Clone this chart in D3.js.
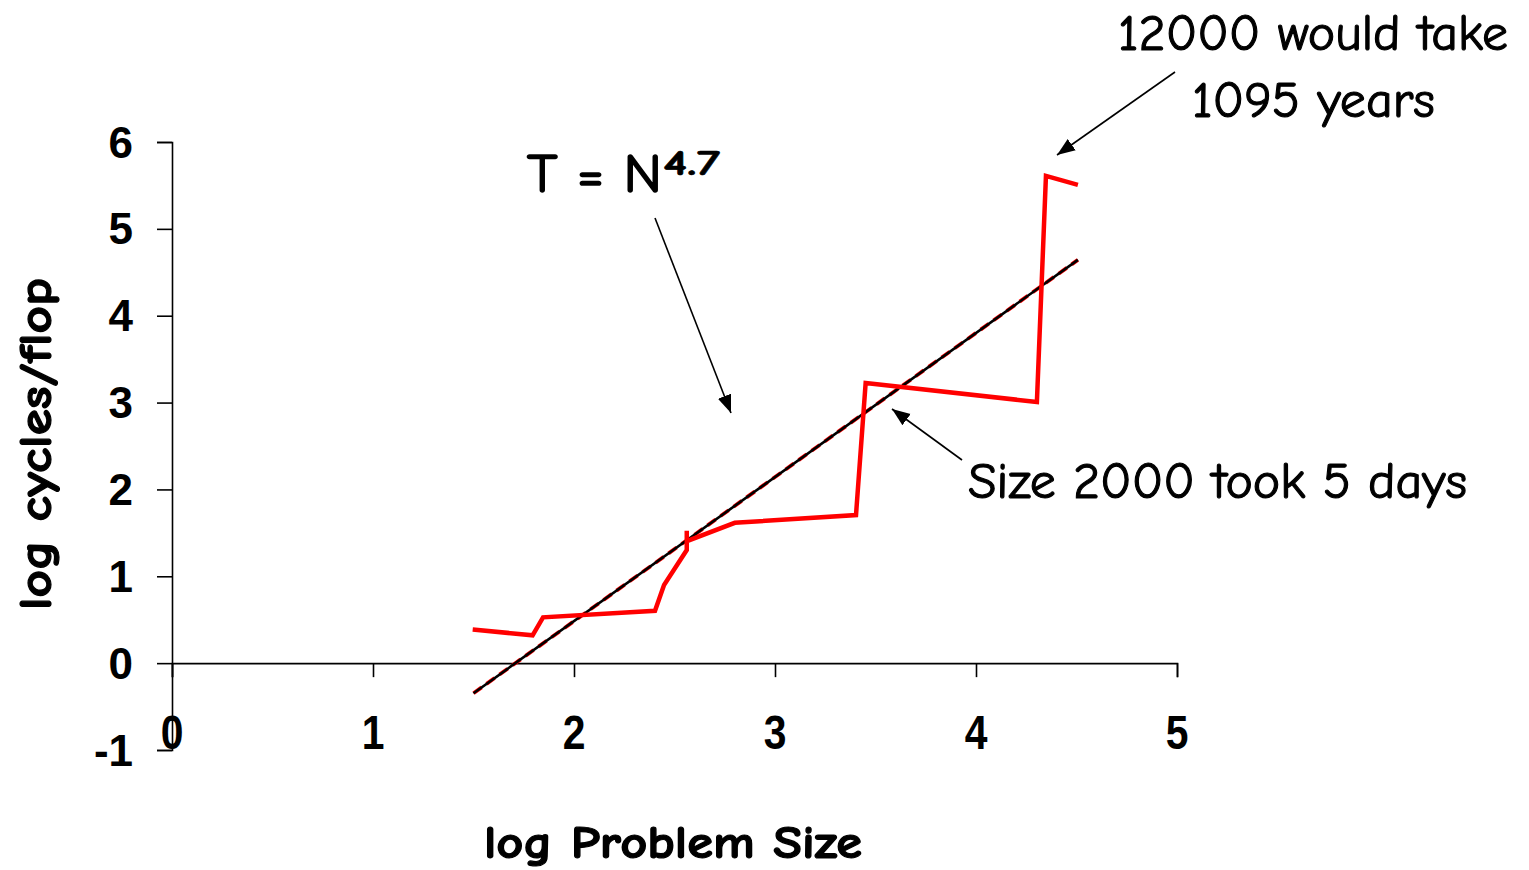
<!DOCTYPE html>
<html>
<head>
<meta charset="utf-8">
<script src="https://cdn.jsdelivr.net/npm/d3@7/dist/d3.min.js"></script>
<style>
  html, body { margin: 0; padding: 0; background: #fff; }
  svg { display: block; }
</style>
</head>
<body>
<svg id="chart" width="1529" height="870"></svg>
<script>
// ---- data ----
const logSize   = [1.496, 1.794, 1.846, 2.403, 2.448, 2.561, 2.561, 2.561, 2.80, 3.403, 3.451, 4.303, 4.348, 4.507];
const logCycles = [0.388, 0.32, 0.527, 0.603, 0.899, 1.302, 1.524, 1.405, 1.616, 1.705, 3.226, 3.007, 5.61, 5.507];
const fitX = [1.5, 4.507];
const fitY = [-0.346, 4.643];
const xTicks = [0, 1, 2, 3, 4, 5];
const yTicks = [-1, 0, 1, 2, 3, 4, 5, 6];
const xTitle = "log Problem Size";
const yTitle = "log cycles/flop";

const svg = d3.select("#chart");
const x = d3.scaleLinear().domain([0, 5]).range([172, 1177]);
const y = d3.scaleLinear().domain([-1, 6]).range([750, 142]);

const comic = "'Comic Sans MS','Comic Neue','Lato','Open Sans',sans-serif";
const arial = "'Liberation Sans',Arial,sans-serif";

// y axis
const yAxis = svg.append("g")
  .attr("transform", `translate(${x(0)},0)`)
  .call(d3.axisLeft(y).tickValues(yTicks).tickSize(15).tickFormat(""));
yAxis.select(".domain").attr("stroke", "#000").attr("stroke-width", 1.6);
yAxis.selectAll(".tick line").attr("stroke", "#000").attr("stroke-width", 1.6);

svg.append("g").selectAll("text").data(yTicks).join("text")
  .attr("x", 133).attr("y", d => y(d) + 15.5)
  .attr("text-anchor", "end")
  .attr("font-family", arial).attr("font-weight", "bold").attr("font-size", 44)
  .text(d => d);

// x axis at y=0
const xAxis = svg.append("g")
  .attr("transform", `translate(0,${y(0)})`)
  .call(d3.axisBottom(x).tickValues(xTicks).tickSize(14).tickFormat(""));
xAxis.select(".domain").attr("stroke", "#000").attr("stroke-width", 1.6);
xAxis.selectAll(".tick line").attr("stroke", "#000").attr("stroke-width", 1.6);

svg.append("g").selectAll("text").data(xTicks).join("text")
  .attr("transform", d => `translate(${x(d)},749) scale(0.95,1.12)`)
  .attr("text-anchor", "middle")
  .attr("font-family", arial).attr("font-weight", "bold").attr("font-size", 43)
  .text(d => d);

// trend line: red dashed under black
const line = d3.line().x(d => x(d[0])).y(d => y(d[1]));
const fit = d3.zip(fitX, fitY);
svg.append("path").attr("d", line(fit)).attr("fill", "none")
  .attr("stroke", "#ff0000").attr("stroke-width", 3.8).attr("stroke-dasharray", "10,6");
svg.append("path").attr("d", line(fit)).attr("fill", "none")
  .attr("stroke", "#000").attr("stroke-width", 2.6);

// data line
svg.append("path").attr("d", line(d3.zip(logSize, logCycles))).attr("fill", "none")
  .attr("stroke", "#ff0000").attr("stroke-width", 4.5).attr("stroke-linejoin", "miter");

// arrow marker
svg.append("defs").append("marker")
  .attr("id", "arr").attr("markerUnits", "userSpaceOnUse")
  .attr("markerWidth", 20).attr("markerHeight", 16)
  .attr("refX", 18).attr("refY", 7).attr("orient", "auto")
  .append("path").attr("d", "M0,0 L18,7 L0,14 Z").attr("fill", "#000");

const arrows = [
  [655, 218, 731, 413],
  [962, 460, 892, 409],
  [1175, 72, 1057, 155]
];
svg.append("g").selectAll("line").data(arrows).join("line")
  .attr("x1", d => d[0]).attr("y1", d => d[1]).attr("x2", d => d[2]).attr("y2", d => d[3])
  .attr("stroke", "#000").attr("stroke-width", 1.6).attr("marker-end", "url(#arr)");

// annotations
function txt(s, xx, yy, size, len, weight, sw) {
  return svg.append("text").attr("x", xx).attr("y", yy)
    .attr("font-family", comic).attr("font-size", size)
    .attr("font-weight", weight || "normal")
    .attr("stroke", "#000").attr("stroke-width", sw)
    .attr("textLength", len).attr("lengthAdjust", "spacingAndGlyphs")
    .text(s);
}
txt("T = N", 527, 192, 54, 135, "normal", 1.6);
txt("4.7", 663, 175, 36, 57, "bold", 0.6);
txt("12000 would take", 1118, 50, 50, 390, "normal", 1.1);
txt("1095 years", 1192, 117, 50, 243, "normal", 1.1);
txt("Size 2000 took 5 days", 968, 498, 50, 499, "normal", 1.1);

// axis titles
txt(xTitle, 484, 858, 46, 378, "bold", 1.2);
svg.append("text")
  .attr("transform", "translate(51,610) rotate(-90)")
  .attr("font-family", comic).attr("font-size", 46).attr("font-weight", "bold")
  .attr("stroke", "#000").attr("stroke-width", 1.2)
  .attr("textLength", 332).attr("lengthAdjust", "spacingAndGlyphs")
  .text(yTitle);
</script>
</body>
</html>
